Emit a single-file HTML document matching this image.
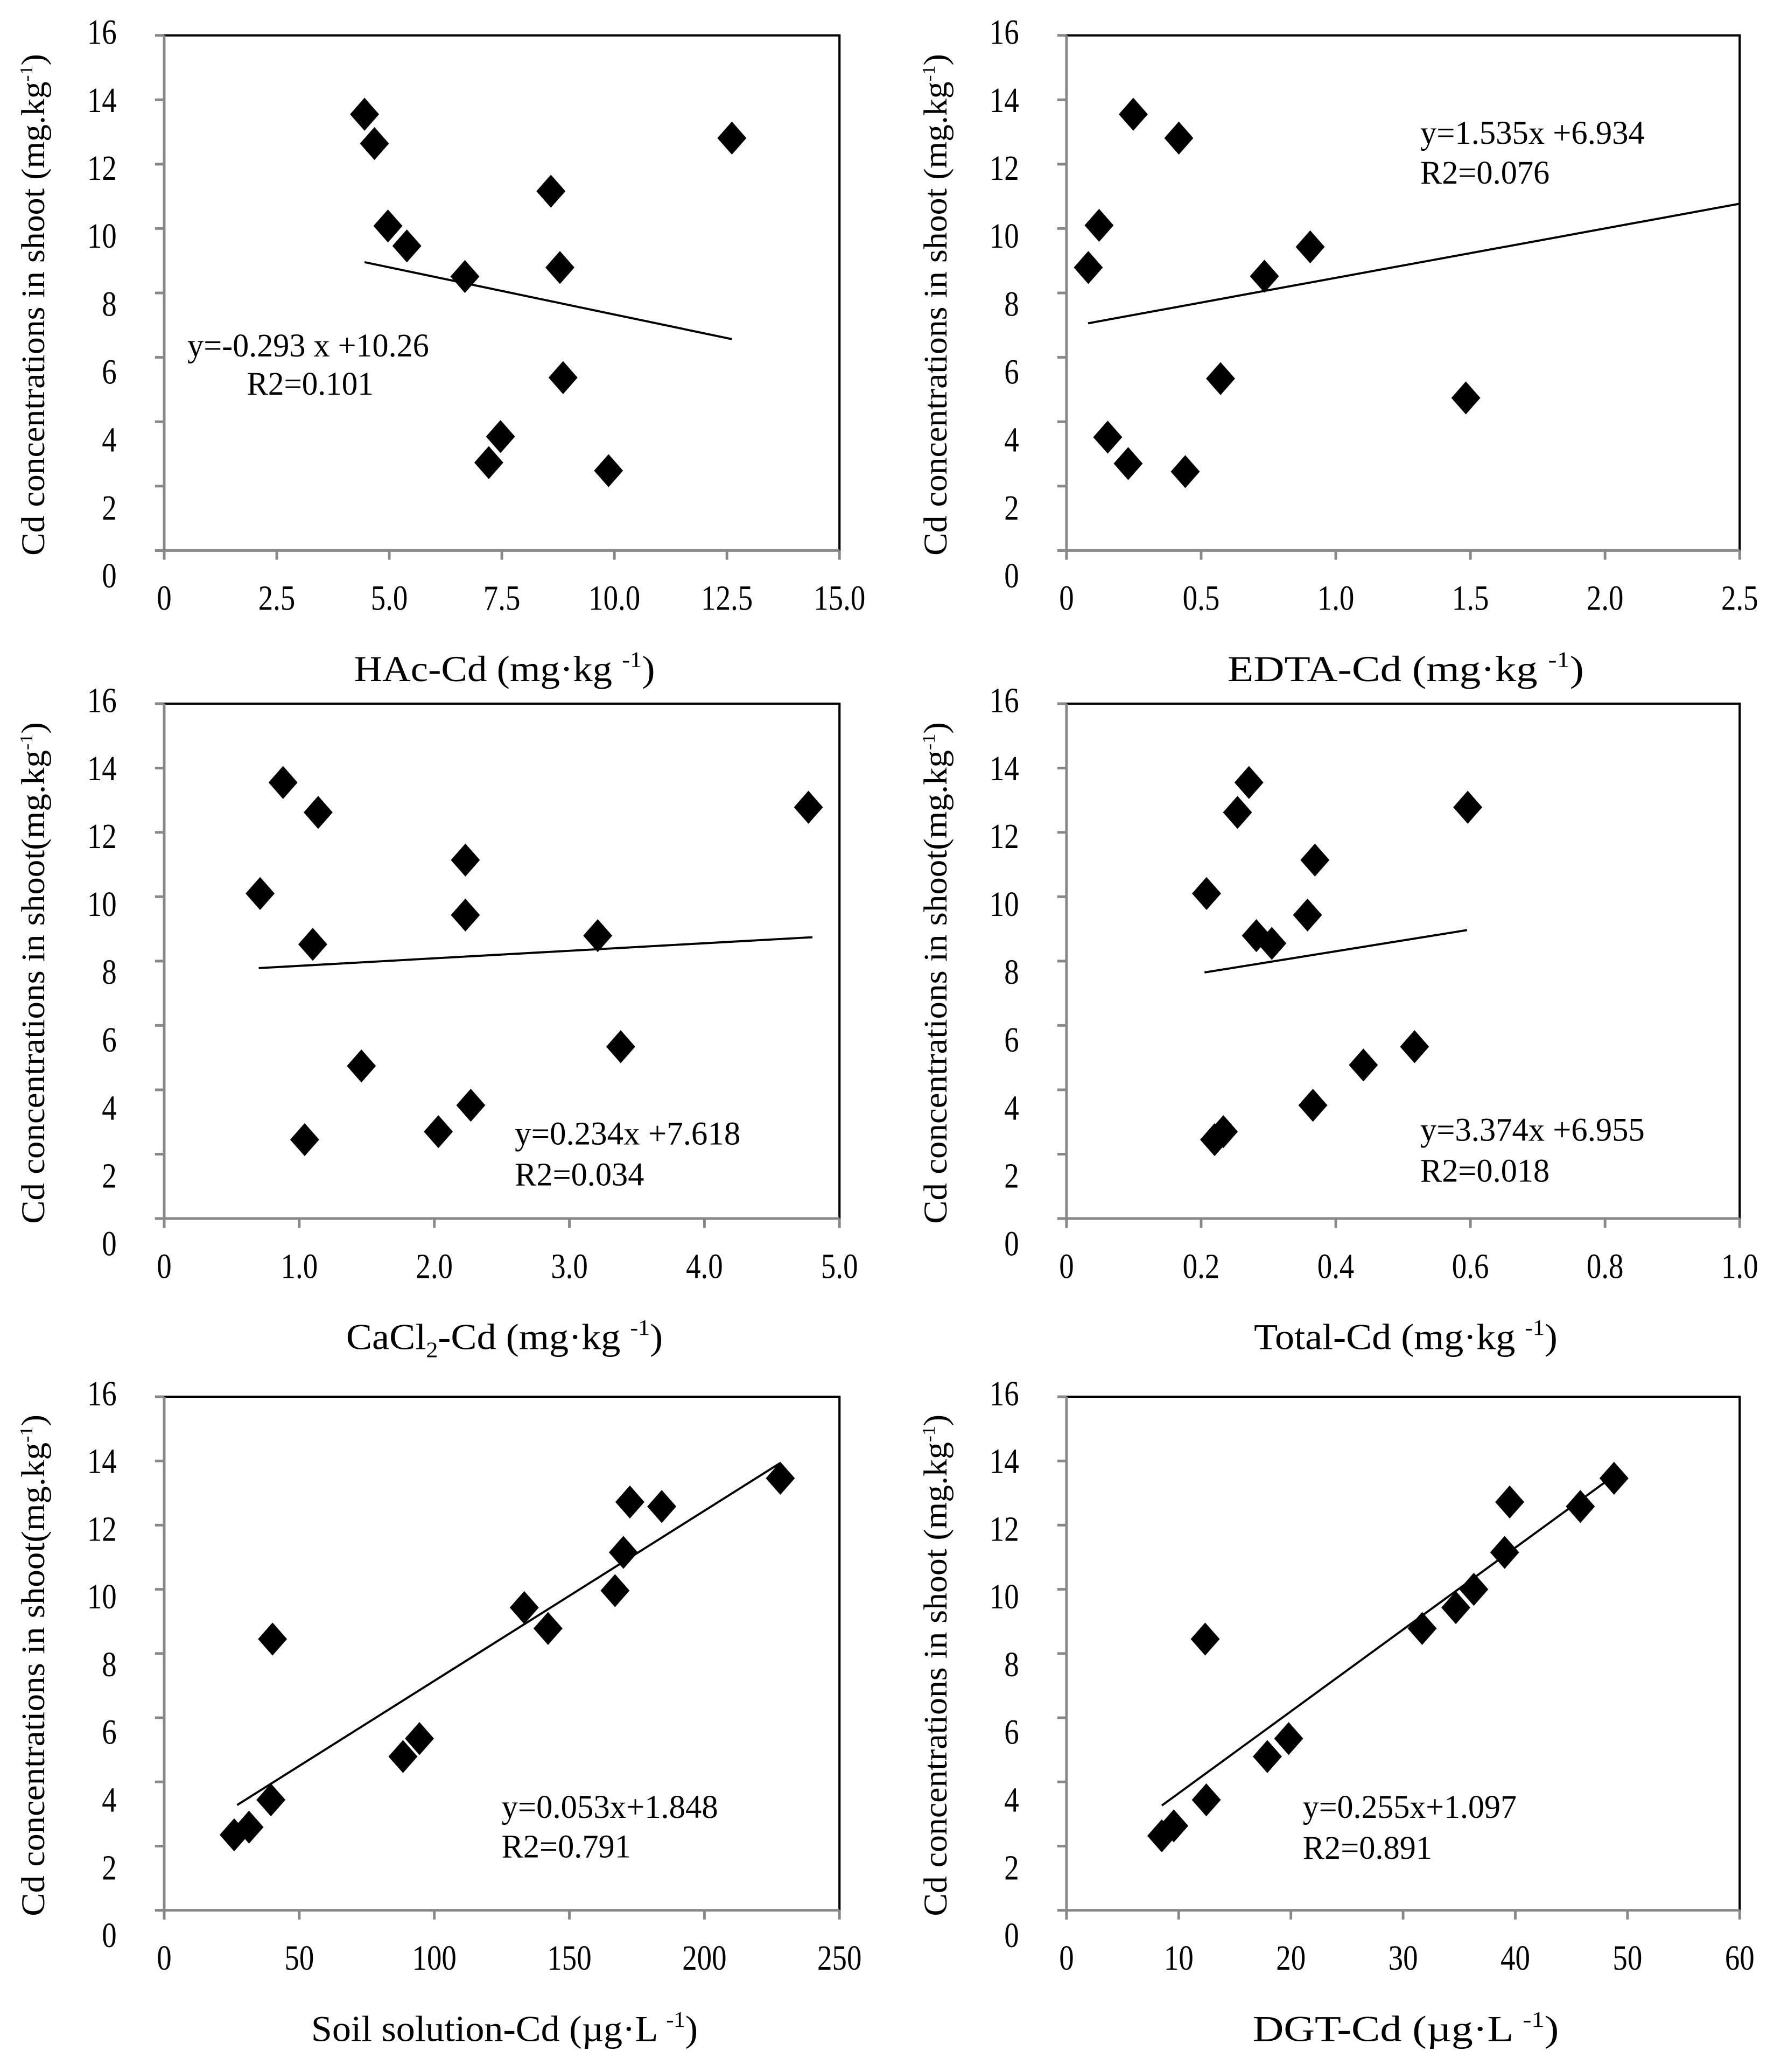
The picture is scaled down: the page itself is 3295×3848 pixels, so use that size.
<!DOCTYPE html>
<html><head><meta charset="utf-8">
<style>
html,body{margin:0;padding:0;background:#fff;}
svg{display:block;}
text{font-family:"Liberation Serif","Times New Roman",serif;fill:#000;}
</style></head>
<body>
<svg id="fig" width="3295" height="3848" viewBox="0 0 1344 1569.5" preserveAspectRatio="none" xmlns="http://www.w3.org/2000/svg"></svg>
<script>
// ---- data ----
const yTicks = [0,2,4,6,8,10,12,14,16];
const hacX = [4.45,4.67,4.97,5.39,6.68,8.59,8.79,8.86,7.47,7.21,9.87,12.61];
const hacY = [13.55,12.64,10.08,9.46,8.51,11.16,8.79,5.37,3.54,2.73,2.48,12.81];
const hacTicks = [0,2.5,5.0,7.5,10.0,12.5,15.0];
const hacTickLabels = ["0","2.5","5.0","7.5","10.0","12.5","15.0"];
const hacFit = [-0.293,10.26,4.45,12.61];

const edtaX = [0.248,0.417,0.121,0.081,0.735,0.905,0.572,1.483,0.153,0.229,0.441];
const edtaY = [13.55,12.81,10.1,8.79,8.52,9.43,5.34,4.74,3.52,2.70,2.45];
const edtaTicks = [0,0.5,1.0,1.5,2.0,2.5];
const edtaTickLabels = ["0","0.5","1.0","1.5","2.0","2.5"];
const edtaFit = [1.535,6.934,0.08,2.5];

const cacl2X = [0.88,1.14,0.71,1.10,2.23,2.23,3.21,1.46,1.04,2.03,2.27,3.38,4.77];
const cacl2Y = [13.55,12.62,10.1,8.52,11.14,9.43,8.79,4.74,2.45,2.70,3.52,5.34,12.78];
const cacl2Ticks = [0,1,2,3,4,5];
const cacl2TickLabels = ["0","1.0","2.0","3.0","4.0","5.0"];
const cacl2Fit = [0.234,7.618,0.7,4.8];

const totalX = [0.271,0.254,0.208,0.369,0.358,0.282,0.305,0.596,0.517,0.441,0.366,0.220,0.233];
const totalY = [13.55,12.62,10.1,11.14,9.43,8.79,8.55,12.78,5.34,4.77,3.52,2.45,2.70];
const totalTicks = [0,0.2,0.4,0.6,0.8,1.0];
const totalTickLabels = ["0","0.2","0.4","0.6","0.8","1.0"];
const totalFit = [3.374,6.955,0.205,0.595];

const solX = [25.9,31.4,39.5,40.1,88.4,94.5,133.3,142.1,166.9,170,172.4,184.2,228.1];
const solY = [2.35,2.59,3.44,8.45,4.79,5.35,9.43,8.78,9.96,11.15,12.72,12.58,13.46];
const solTicks = [0,50,100,150,200,250];
const solTickLabels = ["0","50","100","150","200","250"];
const solFit = [0.053,1.848,27,228];

const dgtX = [8.49,9.56,12.46,12.36,17.9,19.8,31.7,34.7,36.3,39.05,39.5,45.8,48.8];
const dgtY = [2.32,2.63,3.44,8.45,4.79,5.35,8.78,9.43,10.0,11.15,12.72,12.58,13.46];
const dgtTicks = [0,10,20,30,40,50,60];
const dgtTickLabels = ["0","10","20","30","40","50","60"];
const dgtFit = [0.255,1.097,8.5,49];

// ---- layout ----
const NS = "http://www.w3.org/2000/svg";
const svg = document.getElementById('fig');
function mk(tag, attrs, parent){
  const e = document.createElementNS(NS, tag);
  for (const k in attrs) e.setAttribute(k, attrs[k]);
  (parent||svg).appendChild(e);
  return e;
}
const SY = 1.2;
function txt(parent, x, y, s, size, anchor, len){
  const t = mk('text', {transform:`translate(${x},${y}) scale(1,${SY})`, 'font-size':size, 'text-anchor':anchor||'middle'}, parent);
  if (len){ t.setAttribute('textLength', len); t.setAttribute('lengthAdjust','spacingAndGlyphs'); }
  t.textContent = s;
  return t;
}

const panels = [
 {name:'hac', L:124.4, R:636, T:26.8, B:417, xmax:15, xs:hacX, ys:hacY, ticks:hacTicks, labels:hacTickLabels, fit:hacFit,
  title:['HAc-Cd  (mg·kg ','-1',')'], titleLen:228, ytitle:'Cd concentrations in shoot  (mg.kg',
  eq:['y=-0.293 x +10.26','R2=0.101'], eqX:[142,187], eqY:[262,291], eqLen:[183,96]},
 {name:'edta', L:808, R:1318, T:26.8, B:417, xmax:2.5, xs:edtaX, ys:edtaY, ticks:edtaTicks, labels:edtaTickLabels, fit:edtaFit,
  title:['EDTA-Cd  (mg·kg ','-1',')'], titleLen:270, ytitle:'Cd concentrations in shoot  (mg.kg',
  eq:['y=1.535x +6.934','R2=0.076'], eqX:[1076,1076], eqY:[101,131], eqLen:[170,98]},
 {name:'cacl2', L:124.4, R:636, T:533, B:923, xmax:5, xs:cacl2X, ys:cacl2Y, ticks:cacl2Ticks, labels:cacl2TickLabels, fit:cacl2Fit,
  title:null, titleLen:240, ytitle:'Cd concentrations in shoot(mg.kg',
  eq:['y=0.234x +7.618','R2=0.034'], eqX:[390,390], eqY:[859,890], eqLen:[171,98]},
 {name:'total', L:808, R:1318, T:533, B:923, xmax:1, xs:totalX, ys:totalY, ticks:totalTicks, labels:totalTickLabels, fit:totalFit,
  title:['Total-Cd  (mg·kg ','-1',')'], titleLen:230, ytitle:'Cd concentrations in shoot(mg.kg',
  eq:['y=3.374x +6.955','R2=0.018'], eqX:[1076,1076], eqY:[856,887], eqLen:[170,98]},
 {name:'soil-solution', L:124.4, R:636, T:1058, B:1447, xmax:250, xs:solX, ys:solY, ticks:solTicks, labels:solTickLabels, fit:solFit,
  title:['Soil solution-Cd  (µg·L ','-1',')'], titleLen:293, ytitle:'Cd concentrations in shoot(mg.kg',
  eq:['y=0.053x+1.848','R2=0.791'], eqX:[380,380], eqY:[1369,1399], eqLen:[164,98]},
 {name:'dgt', L:808, R:1318, T:1058, B:1447, xmax:60, xs:dgtX, ys:dgtY, ticks:dgtTicks, labels:dgtTickLabels, fit:dgtFit,
  title:['DGT-Cd  (µg·L ','-1',')'], titleLen:232, ytitle:'Cd concentrations in shoot (mg.kg',
  eq:['y=0.255x+1.097','R2=0.891'], eqX:[987,987], eqY:[1369,1400], eqLen:[162,98]}
];

panels.forEach(p=>{
  const g = mk('g', {});
  
  
  const xs = v => p.L + v/p.xmax*(p.R-p.L);
  const ys = v => p.B - v/16*(p.B-p.T);
  const fr = mk('path', {d:`M${p.L},${p.T} H${p.R} V${p.B}`, fill:'none', stroke:'#000', 'stroke-width':1.7}, g);
  
  
  const ya = mk('line', {x1:p.L, y1:p.T, x2:p.L, y2:p.B+7, stroke:'#888', 'stroke-width':2}, g);
  
  
  const xa = mk('line', {x1:p.L-7, y1:p.B, x2:p.R, y2:p.B, stroke:'#888', 'stroke-width':2}, g);
  
  
  const labelStep = (p.B - p.T) / 16 * 1.055;
  yTicks.forEach(v=>{
    mk('line', {x1:p.L-7, y1:ys(v), x2:p.L, y2:ys(v), stroke:'#888', 'stroke-width':2}, g);
    const t = txt(g, p.L-36, p.T - 1.5 + (16-v)*labelStep + 8, String(v), 22.4, 'end');
    
    
  });
  p.ticks.forEach((v,i)=>{
    mk('line', {x1:xs(v), y1:p.B, x2:xs(v), y2:p.B+7, stroke:'#888', 'stroke-width':2}, g);
    const t = txt(g, xs(v), p.B+45, p.labels[i], 22.4, 'middle');
    
    
  });
  const tx = (p.L+p.R)/2 + 2;
  const tt = mk('text', {transform:`translate(${tx},${p.B+99}) scale(1,${SY})`, 'font-size':23, 'text-anchor':'middle', textLength:p.titleLen, lengthAdjust:'spacingAndGlyphs'}, g);
  
  
  if (p.title){
    tt.appendChild(document.createTextNode(p.title[0]));
    const s = mk('tspan', {'font-size':14, dy:-9}, tt); s.textContent = p.title[1];
    const c = mk('tspan', {dy:9}, tt); c.textContent = p.title[2];
  } else {
    tt.appendChild(document.createTextNode('CaCl'));
    const s = mk('tspan', {'font-size':14, dy:5}, tt); s.textContent = '2';
    const c = mk('tspan', {dy:-5}, tt); c.textContent = '-Cd  (mg·kg ';
    const s2 = mk('tspan', {'font-size':14, dy:-9}, tt); s2.textContent = '-1';
    const c2 = mk('tspan', {dy:9}, tt); c2.textContent = ')';
  }
  const ty = mk('text', {transform:`translate(${p.L-91},${(p.T+p.B)/2+9}) rotate(-90)`, 'font-size':25, 'text-anchor':'middle', textLength:380, lengthAdjust:'spacingAndGlyphs'}, g);
  
  
  ty.appendChild(document.createTextNode(p.ytitle));
  const ys1 = mk('tspan', {'font-size':14, dy:-9}, ty); ys1.textContent = '-1';
  const ys2 = mk('tspan', {dy:9}, ty); ys2.textContent = ')';
  const [m,b,x0,x1] = p.fit;
  const tl = mk('line', {x1:xs(x0), y1:ys(m*x0+b), x2:xs(x1), y2:ys(m*x1+b), stroke:'#000', 'stroke-width':1.6}, g);
  
  
  p.xs.forEach((xv,i)=>{
    const cx = xs(xv), cy = ys(p.ys[i]);
    const d = mk('path', {d:`M${cx},${cy-12.5} L${cx+11},${cy} L${cx},${cy+12.5} L${cx-11},${cy} Z`, fill:'#000'}, g);
    
    
  });
  p.eq.forEach((s,i)=>{
    const t = txt(g, p.eqX[i], p.eqY[i]+8, s, 21, 'start', p.eqLen[i]);
    
    
  });
});
</script>
</body></html>
